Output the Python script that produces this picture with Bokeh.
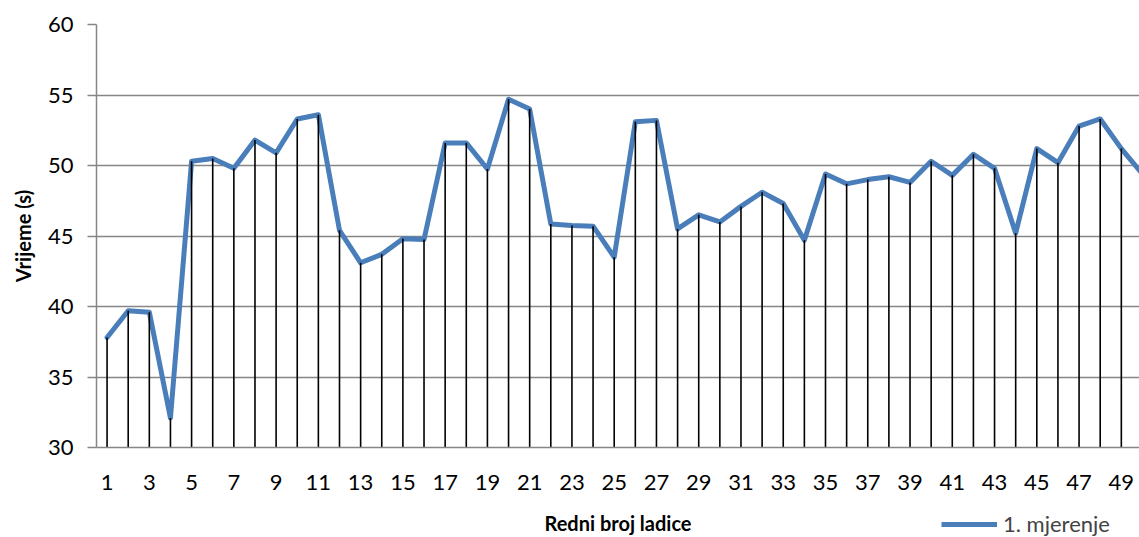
from bokeh.plotting import figure
from bokeh.layouts import column
from bokeh.models import Range1d, FixedTicker, Legend, LegendItem
from bokeh.embed import file_html
from bokeh.resources import INLINE

# ---- data ----
categories = list(range(1, 51))
mjerenje_1 = [37.8, 39.7, 39.6, 32.1, 50.3, 50.5, 49.8, 51.8, 50.9, 53.3,
              53.6, 45.4, 43.1, 43.7, 44.8, 44.75, 51.6, 51.6, 49.75, 54.7,
              54.0, 45.85, 45.75, 45.7, 43.5, 53.1, 53.2, 45.5, 46.5, 46.0,
              47.1, 48.1, 47.3, 44.7, 49.4, 48.7, 49.0, 49.2, 48.8, 50.3,
              49.3, 50.8, 49.8, 45.2, 51.2, 50.2, 52.8, 53.3, 51.2, 49.4]
x_tick_labels = list(range(1, 50, 2))
y_ticks = [30, 35, 40, 45, 50, 55, 60]
series_name = "1. mjerenje"

FONT = "Lato"
GRID = "#868686"
BLUE = "#4A7EBB"

p = figure(width=1139, height=537, output_backend="svg", toolbar_location=None,
           x_range=Range1d(0.5, 49.86), y_range=Range1d(30, 60),
           min_border_left=96, min_border_top=24, min_border_right=0,
           min_border_bottom=90)
p.outline_line_color = None
p.background_fill_color = "white"
p.border_fill_color = "white"

# grid
p.xgrid.grid_line_color = None
p.ygrid.grid_line_color = GRID
p.ygrid.grid_line_width = 1.5
p.ygrid.ticker = FixedTicker(ticks=y_ticks)

# y axis
p.yaxis.ticker = FixedTicker(ticks=y_ticks)
p.yaxis.axis_line_color = GRID
p.yaxis.axis_line_width = 1.5
p.yaxis.major_tick_line_color = GRID
p.yaxis.major_tick_line_width = 1.5
p.yaxis.major_tick_out = 9
p.yaxis.major_tick_in = 0
p.yaxis.minor_tick_line_color = None
p.yaxis.major_label_standoff = 14
p.yaxis.major_label_text_font = FONT
p.yaxis.major_label_text_font_size = "22px"
p.yaxis.major_label_text_color = "black"
p.yaxis.axis_label = "Vrijeme (s)"
p.yaxis.axis_label_text_font = FONT
p.yaxis.axis_label_text_font_size = "20px"
p.yaxis.axis_label_text_font_style = "bold"
p.yaxis.axis_label_text_color = "black"
p.yaxis.axis_label_standoff = 10

# x axis
p.xaxis.ticker = FixedTicker(ticks=x_tick_labels)
p.xaxis.axis_line_color = GRID
p.xaxis.axis_line_width = 1.5
p.xaxis.major_tick_line_color = None
p.xaxis.minor_tick_line_color = None
p.xaxis.major_tick_out = 0
p.xaxis.major_tick_in = 0
p.xaxis.major_label_standoff = 27
p.xaxis.major_label_text_font = FONT
p.xaxis.major_label_text_font_size = "22px"
p.xaxis.major_label_text_color = "black"
p.xaxis.axis_label = "Redni broj ladice"
p.xaxis.axis_label_text_font = FONT
p.xaxis.axis_label_text_font_size = "20px"
p.xaxis.axis_label_text_font_style = "bold"
p.xaxis.axis_label_text_color = "black"
p.xaxis.axis_label_standoff = 18

# data
r_line = p.line(categories, mjerenje_1, line_color=BLUE, line_width=5,
                line_join="round", line_cap="round")
p.segment(x0=categories, y0=[30] * len(categories), x1=categories, y1=mjerenje_1,
          line_color="black", line_width=1.6)

# legend strip: transparent full-width figure laid over the bottom of the chart.
# It holds a copy of the series (outside its own ranges, so not drawn) only to
# give the legend its line sample.
leg_fig = figure(width=1139, height=26, output_backend="svg", toolbar_location=None,
                 x_range=Range1d(-1, 0), y_range=Range1d(-1, 0),
                 x_axis_location=None, y_axis_location=None,
                 min_border=0, margin=(-26, 0, 0, 0))
leg_fig.grid.grid_line_color = None
leg_fig.outline_line_color = None
leg_fig.background_fill_alpha = 0
leg_fig.border_fill_alpha = 0
leg_line = leg_fig.line(categories, mjerenje_1, line_color=BLUE, line_width=5)
legend = Legend(items=[LegendItem(label=series_name, renderers=[leg_line])],
                location=(845, 0), orientation="horizontal",
                label_text_font=FONT, label_text_font_size="22px",
                glyph_width=56, glyph_height=20, label_standoff=6,
                padding=0, margin=0, spacing=0,
                border_line_color=None, background_fill_alpha=0)
leg_fig.add_layout(legend, "center")

layout = column(p, leg_fig, spacing=0)
open("out.html", "w").write(file_html(layout, INLINE))
